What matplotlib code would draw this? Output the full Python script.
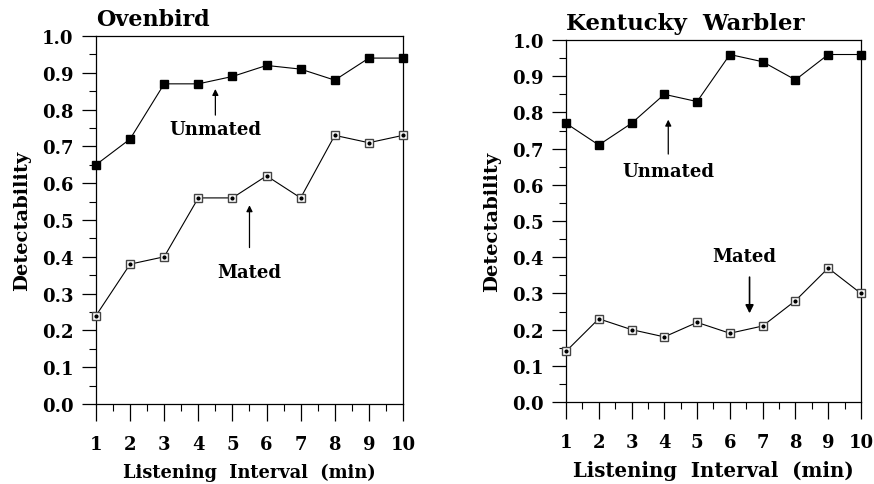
import matplotlib
matplotlib.use('Agg')
from matplotlib import pyplot as plt
from matplotlib.ticker import MultipleLocator

intervals = [1, 2, 3, 4, 5, 6, 7, 8, 9, 10]
ovenbird_unmated = [0.65, 0.72, 0.87, 0.87, 0.89, 0.92, 0.91, 0.88, 0.94, 0.94]
ovenbird_mated = [0.24, 0.38, 0.40, 0.56, 0.56, 0.62, 0.56, 0.73, 0.71, 0.73]
warbler_unmated = [0.77, 0.71, 0.77, 0.85, 0.83, 0.96, 0.94, 0.89, 0.96, 0.96]
warbler_mated = [0.14, 0.23, 0.20, 0.18, 0.22, 0.19, 0.21, 0.28, 0.37, 0.30]

plt.rcParams['font.family'] = 'DejaVu Serif'
plt.rcParams['font.weight'] = 'bold'

fig = plt.figure(figsize=(8.74, 4.85), dpi=100)
ax1 = fig.add_axes([0.1098, 0.165, 0.3513, 0.7587])
ax2 = fig.add_axes([0.6476, 0.169, 0.3375, 0.7464])


def draw_panel(ax, unmated, mated, title, xlabel_size, title_size):
    ax.plot(intervals, unmated, color='black', lw=0.8, marker='s', ms=6,
            mfc='black', mec='black', clip_on=False, zorder=3)
    ax.plot(intervals, mated, color='black', lw=0.8, marker='s', ms=6,
            mfc='white', mec='#444444', mew=1.0, clip_on=False, zorder=3)
    ax.plot(intervals, mated, ls='none', marker='o', ms=2, color='black',
            clip_on=False, zorder=4)
    ax.set_xlim(1, 10)
    ax.set_ylim(0, 1.0)
    ax.xaxis.set_major_locator(MultipleLocator(1))
    ax.xaxis.set_minor_locator(MultipleLocator(0.5))
    ax.yaxis.set_major_locator(MultipleLocator(0.1))
    ax.yaxis.set_minor_locator(MultipleLocator(0.05))
    ax.tick_params(which='major', direction='out', length=10, width=0.9,
                   labelsize=13, pad=6)
    ax.tick_params(axis='x', which='major', length=12, pad=10)
    ax.tick_params(which='minor', direction='out', length=5, width=0.8)
    ax.set_yticks([i / 10 for i in range(11)])
    ax.set_yticklabels(['%.1f' % (i / 10) for i in range(11)])
    for lab in ax.get_xticklabels() + ax.get_yticklabels():
        lab.set_fontweight('bold')
    for s in ax.spines.values():
        s.set_linewidth(0.9)
    ax.set_ylabel('Detectability', fontsize=14, fontweight='bold', labelpad=8)
    ax.set_xlabel('Listening  Interval  (min)', fontsize=xlabel_size,
                  fontweight='bold', labelpad=7)
    ax.set_title(title, loc='left', fontsize=title_size, fontweight='bold', pad=8)


draw_panel(ax1, ovenbird_unmated, ovenbird_mated, 'Ovenbird', 12.8, 16)
draw_panel(ax2, warbler_unmated, warbler_mated, 'Kentucky  Warbler', 14.2, 16.5)

arrow = dict(arrowstyle='-|>', color='black', lw=0.9, mutation_scale=9,
             shrinkA=0, shrinkB=0)
ax1.annotate('', xy=(4.5, 0.856), xytext=(4.5, 0.785), arrowprops=arrow)
ax1.text(4.5, 0.747, 'Unmated', ha='center', va='center', fontsize=13, fontweight='bold')
ax1.annotate('', xy=(5.5, 0.54), xytext=(5.5, 0.425), arrowprops=arrow)
ax1.text(5.5, 0.36, 'Mated', ha='center', va='center', fontsize=13, fontweight='bold')

ax2.annotate('', xy=(4.12, 0.78), xytext=(4.12, 0.685), arrowprops=arrow)
ax2.text(4.12, 0.638, 'Unmated', ha='center', va='center', fontsize=13, fontweight='bold')
ax2.annotate('', xy=(6.6, 0.245), xytext=(6.6, 0.345),
             arrowprops=dict(arrowstyle='-|>', color='black', lw=1.2, mutation_scale=12,
                             shrinkA=0, shrinkB=0))
ax2.text(6.45, 0.403, 'Mated', ha='center', va='center', fontsize=13, fontweight='bold')

fig.savefig('out.png', dpi=100)
